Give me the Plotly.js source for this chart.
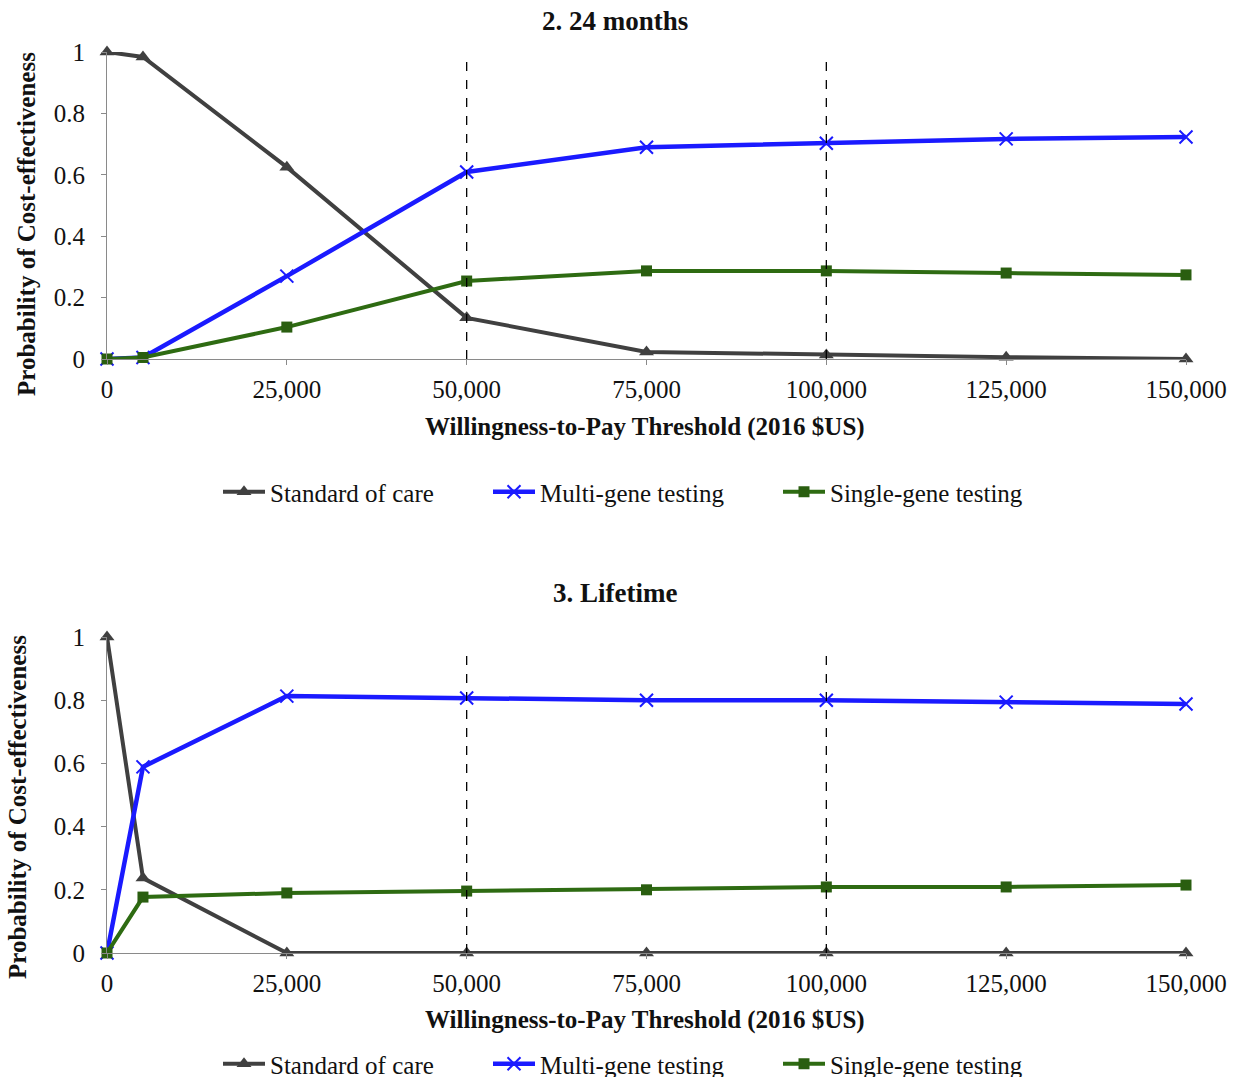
<!DOCTYPE html>
<html>
<head>
<meta charset="utf-8">
<script src="https://cdn.plot.ly/plotly-3.0.1.min.js"></script>
<style>html,body{margin:0;padding:0;background:#fff;}#chart{width:1238px;height:1077px;}</style>
</head>
<body>
<div id="chart"></div>
<script>
// ---- Data ----
const thresholds = [0, 5000, 25000, 50000, 75000, 100000, 125000, 150000];
const tickVals = [0, 25000, 50000, 75000, 100000, 125000, 150000];
const tickText = ['0', '25,000', '50,000', '75,000', '100,000', '125,000', '150,000'];
const yTickVals = [0, 0.2, 0.4, 0.6, 0.8, 1];
const yTickText = ['0', '0.2', '0.4', '0.6', '0.8', '1'];
const seriesNames = ['Standard of care', 'Multi-gene testing', 'Single-gene testing'];

// Panel 2: 24 months
const soc24 = [1.0, 0.984, 0.625, 0.134, 0.023, 0.013, 0.006, 0.0];
const multi24 = [0.0, 0.005, 0.27, 0.609, 0.69, 0.703, 0.717, 0.723];
const single24 = [0.0, 0.005, 0.104, 0.254, 0.287, 0.287, 0.28, 0.274];

// Panel 3: Lifetime
const socLife = [1.0, 0.237, 0.0, 0.0, 0.0, 0.0, 0.0, 0.0];
const multiLife = [0.0, 0.589, 0.813, 0.807, 0.80, 0.80, 0.794, 0.788];
const singleLife = [0.0, 0.177, 0.19, 0.196, 0.2, 0.209, 0.209, 0.215];

const panelTitles = ['2. 24 months', '3. Lifetime'];
const xTitle = 'Willingness-to-Pay Threshold (2016 $US)';
const yTitle = 'Probability of Cost-effectiveness';
const refLines = [50000, 100000];

// ---- Layout helpers (pixel geometry) ----
const W = 1238, H = 1077;
const M = {l: 107, r: 52, t: 52, b: 124};
const PW = W - M.l - M.r, PH = H - M.t - M.b;
const px = p => (p - M.l) / PW;          // pixel x -> paper x
const py = p => (H - M.b - p) / PH;      // pixel y -> paper y

const FONT = '"Liberation Serif", "Times New Roman", serif';
const styles = [
  {color: '#404040', width: 4, marker: {symbol: 'triangle-up', size: 13, color: '#404040'}},
  {color: '#1a1aff', width: 4.5, marker: {symbol: 'x-thin-open', size: 13, color: '#1a1aff', line: {width: 2, color: '#1a1aff'}}},
  {color: '#2e6b12', width: 4, marker: {symbol: 'square', size: 11, color: '#2a5e10'}}
];

const legendNames = ['legend', 'legend2', 'legend3', 'legend4', 'legend5', 'legend6'];

function mk(vals, i, panel) {
  return {
    x: thresholds, y: vals, type: 'scatter', mode: 'lines+markers',
    name: seriesNames[i], xaxis: panel ? 'x2' : 'x', yaxis: panel ? 'y2' : 'y',
    legend: legendNames[panel * 3 + i],
    line: {color: styles[i].color, width: styles[i].width},
    marker: styles[i].marker, cliponaxis: false, hoverinfo: 'x+y+name'
  };
}

const traces = [
  mk(soc24, 0, 0), mk(multi24, 1, 0), mk(single24, 2, 0),
  mk(socLife, 0, 1), mk(multiLife, 1, 1), mk(singleLife, 2, 1)
];

const xaxisBase = {
  range: [0, 150000], tickvals: tickVals, ticktext: tickText,
  showgrid: false, zeroline: false, showline: true, linecolor: '#8a8a8a', linewidth: 1,
  ticks: 'outside', ticklen: 5, tickcolor: '#8a8a8a',
  tickfont: {family: FONT, size: 25, color: '#111'}, ticklabelstandoff: 3
};
const yaxisBase = {
  range: [0, 1], tickvals: yTickVals, ticktext: yTickText,
  showgrid: false, zeroline: false, showline: true, linecolor: '#8a8a8a', linewidth: 1,
  ticks: 'outside', ticklen: 5, tickcolor: '#8a8a8a',
  tickfont: {family: FONT, size: 25, color: '#111'}, ticklabelstandoff: 11
};

const shapes = [];
refLines.forEach(v => {
  shapes.push({type: 'line', xref: 'x', yref: 'y', x0: v, x1: v, y0: 0, y1: 0.99, line: {color: '#000', width: 1.3, dash: 'dash'}});
  shapes.push({type: 'line', xref: 'x2', yref: 'y2', x0: v, x1: v, y0: 0, y1: 0.95, line: {color: '#000', width: 1.3, dash: 'dash'}});
});

// legend item start pixels (symbol start) and centre rows
const legendStartPx = [218, 488, 778];
const legendRowPx = [492, 1064];

const legendBase = {
  orientation: 'h', xanchor: 'left', yanchor: 'middle',
  font: {family: FONT, size: 25, color: '#111'}, bgcolor: 'rgba(0,0,0,0)',
  itemwidth: 42
};

const annBold = (text, x, y, size, angle) => ({
  text: text, xref: 'paper', yref: 'paper', x: x, y: y, showarrow: false,
  xanchor: 'center', yanchor: 'middle', textangle: angle || 0,
  font: {family: FONT, size: size, color: '#111', weight: 'bold'}
});

const layout = {
  width: W, height: H,
  margin: Object.assign({autoexpand: false}, M),
  paper_bgcolor: '#fff', plot_bgcolor: '#fff',
  showlegend: true,
  xaxis: Object.assign({}, xaxisBase, {domain: [0, 1], anchor: 'y'}),
  yaxis: Object.assign({}, yaxisBase, {domain: [py(359), 1], anchor: 'x'}),
  xaxis2: Object.assign({}, xaxisBase, {domain: [0, 1], anchor: 'y2'}),
  yaxis2: Object.assign({}, yaxisBase, {domain: [0, py(637)], anchor: 'x2'}),
  shapes: shapes,
  annotations: [
    annBold(panelTitles[0], px(615), py(21), 27),
    annBold(panelTitles[1], px(615), py(593), 27),
    annBold(xTitle, px(645), py(427), 25),
    annBold(xTitle, px(645), py(1020), 25),
    annBold(yTitle, px(27), py(224), 25, -90),
    annBold(yTitle, px(17), py(807), 25, -90)
  ]
};
for (let p = 0; p < 2; p++) {
  for (let i = 0; i < 3; i++) {
    layout[legendNames[p * 3 + i]] = Object.assign({}, legendBase, {
      x: px(legendStartPx[i]), y: py(legendRowPx[p])
    });
  }
}

Plotly.newPlot('chart', traces, layout, {displayModeBar: false});
</script>
</body>
</html>
